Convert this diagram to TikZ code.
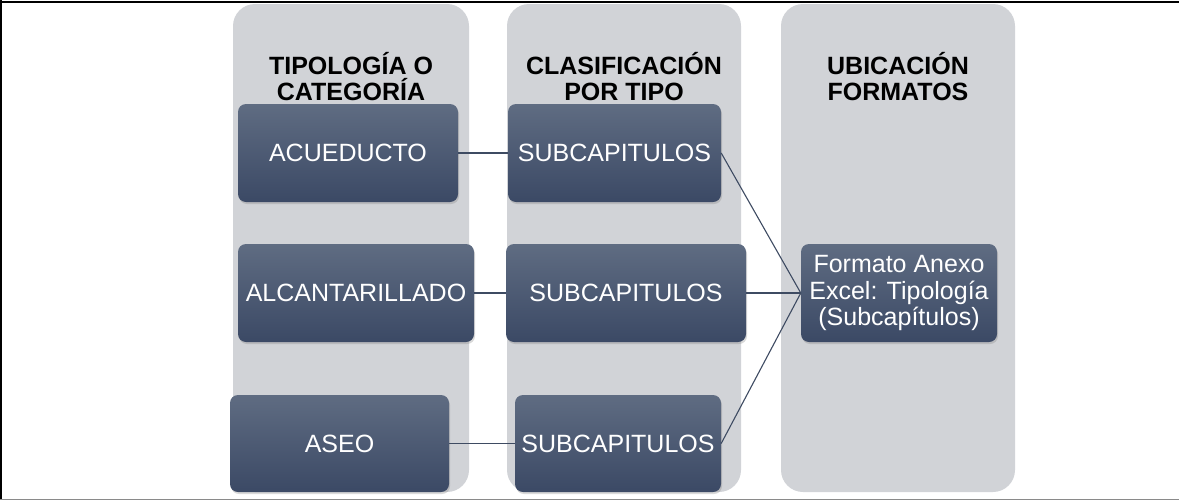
\documentclass[tikz,border=0pt]{standalone}
\usepackage{fontspec}
\setmainfont{Liberation Sans}
\usetikzlibrary{shadows,positioning}
\definecolor{colGray}{HTML}{D1D3D7}
\definecolor{boxTop}{HTML}{5F6C82}
\definecolor{boxBottom}{HTML}{3B4965}
\definecolor{linkColor}{HTML}{3E4B62}
\definecolor{frameGray}{HTML}{8A8A8A}
\tikzset{
	colBack/.style={
		fill=colGray,
		draw=none,
		rounded corners=22pt
	},
	darkBox/.style={
		rectangle,
		rounded corners=8pt,
		top color=boxTop,
		bottom color=boxBottom,
		draw=none,
		text=white,
		align=center,
		inner sep=2pt,
		minimum height=98pt,
		font=\fontsize{25}{27}\selectfont,
		drop shadow={opacity=0.3, shadow xshift=1pt, shadow yshift=-2pt}
	},
	headText/.style={
		align=center,
		font=\fontsize{25}{26}\selectfont\bfseries,
		text=black
	},
	linkEdge/.style={
		draw=linkColor,
		line width=1.1pt
	},
}

\begin{document}
\begin{tikzpicture}[x=1pt, y=-1pt]
\useasboundingbox (0,0) rectangle (1179,501);
% frame
\draw[line width=2.5pt, black] (0,2) -- (1179,2);
\draw[line width=2pt, black] (1,0) -- (1,499);
\draw[line width=1.5pt, frameGray] (0,499.5) -- (1179,499.5);

% column backgrounds
\begin{scope}[]
    \path[colBack] (233,4) rectangle (469,492);
    \path[colBack] (507,4) rectangle (741,492);
    \path[colBack] (781,4) rectangle (1015,492);

    \node[headText] (H1) at (351,77){TIPOLOGÍA O\\CATEGORÍA};
    \node[headText] (H2) at (624,77){CLASIFICACIÓN\\POR TIPO};
    \node[headText] (H3) at (898,77){UBICACIÓN\\FORMATOS};
\end{scope}

% boxes
\begin{scope}[]
    \node[darkBox, minimum width=220pt] (A1) at (348,153){ACUEDUCTO};
    \node[darkBox, minimum width=236pt] (A2) at (356,293){ALCANTARILLADO};
    \node[darkBox, minimum width=219pt, minimum height=97pt] (A3) at (339.5,443.5){ASEO};

    \node[darkBox, minimum width=213pt] (S1) at (614.5,153){SUBCAPITULOS};
    \node[darkBox, minimum width=240pt] (S2) at (626,293){SUBCAPITULOS};
    \node[darkBox, minimum width=206pt, minimum height=97pt] (S3) at (618,443.5){SUBCAPITULOS};

    \node[darkBox, minimum width=196pt, font=\fontsize{25}{26.5}\selectfont] (F1) at (899,293){Formato Anexo\\Excel: Tipología\\(Subcapítulos)};
\end{scope}

% links
\path[linkEdge] (A1.east) edge (S1.west);
\path[linkEdge] (A2.east) edge (S2.west);
\path[linkEdge] (A3.east) edge (S3.west);
\path[linkEdge] (S1.east) edge (F1.west);
\path[linkEdge] (S2.east) edge (F1.west);
\path[linkEdge] (S3.east) edge (F1.west);

\end{tikzpicture}
\end{document}
